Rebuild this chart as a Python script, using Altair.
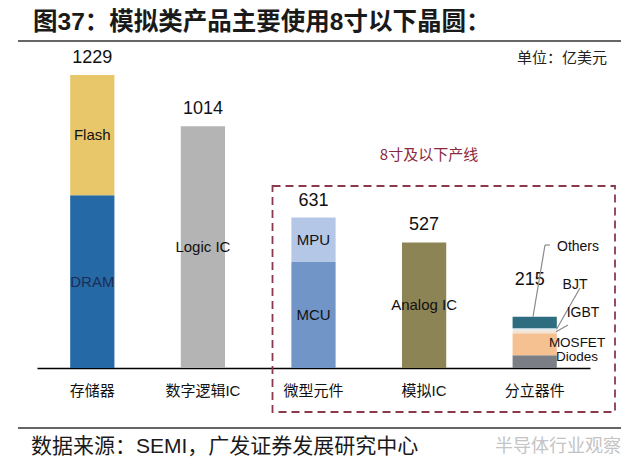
import altair as alt
import pandas as pd

# ---------------- data ----------------
categories = ["存储器", "数字逻辑IC", "微型元件", "模拟IC", "分立器件"]
seg_category = ["存储器", "存储器", "数字逻辑IC", "微型元件", "微型元件", "模拟IC",
                "分立器件", "分立器件", "分立器件", "分立器件", "分立器件"]
seg_name = ["DRAM", "Flash", "Logic IC", "MCU", "MPU", "Analog IC",
            "Diodes", "MOSFET", "IGBT", "BJT", "Others"]
seg_value = [725, 504, 1014, 445, 186, 527, 54, 92, 12, 9, 48]
inside_labels = ["DRAM", "Flash", "Logic IC", "MCU", "MPU", "Analog IC"]
totals = [1229, 1014, 631, 527, 215]

# ---------------- styles ----------------
seg_colors = ["#2569a6", "#e8c76b", "#b4b4b4", "#7295c8", "#b4c7e7", "#8d8455",
              "#7b7f85", "#f6c191", "#f5e4d4", "#dde9ee", "#2d6d7f"]
LAT = "Liberation Sans, Noto Sans CJK SC"
CJK = "Noto Sans CJK SC"
TOP = 12  # top padding of the plot area

df = pd.DataFrame({"category": seg_category, "segment": seg_name, "value": seg_value})
df["end"] = df.groupby("category")["value"].cumsum()
df["start"] = df["end"] - df["value"]
df["mid"] = (df["start"] + df["end"]) / 2
lab_df = df[df["segment"].isin(inside_labels)]
tot_df = pd.DataFrame({"category": categories, "total": totals})

yscale = alt.Scale(domain=[0, 1460], nice=False, zero=True)
xenc = alt.X("category:N", sort=categories,
             scale=alt.Scale(domain=categories, paddingInner=0.6, paddingOuter=0.3),
             axis=alt.Axis(title=None, domainColor="#000", domainWidth=1.5, ticks=False,
                           labelFontSize=15, labelFont=LAT, labelColor="#111",
                           labelPadding=22, labelBaseline="middle", labelAngle=0))

bars = alt.Chart(df).mark_bar().encode(
    x=xenc,
    y=alt.Y("start:Q", scale=yscale, axis=None),
    y2="end:Q",
    color=alt.Color("segment:N", scale=alt.Scale(domain=seg_name, range=seg_colors), legend=None),
)

inside = alt.Chart(lab_df).mark_text(font=LAT, fontSize=15).encode(
    x=xenc,
    y=alt.Y("mid:Q", scale=yscale, axis=None),
    text="segment:N",
    color=alt.condition(alt.datum.segment == "DRAM", alt.value("#1c2e55"), alt.value("#111111")),
)

tot_main = alt.Chart(tot_df).transform_filter(alt.datum.category != "分立器件").mark_text(
    font=LAT, fontSize=18, dy=-17, color="#111").encode(
    x=xenc, y=alt.Y("total:Q", scale=yscale, axis=None), text="total:Q")
tot_disc = alt.Chart(tot_df).transform_filter(alt.datum.category == "分立器件").mark_text(
    font=LAT, fontSize=18, dy=-37, dx=-5, color="#111").encode(
    x=xenc, y=alt.Y("total:Q", scale=yscale, axis=None), text="total:Q")

one = alt.Data(values=[{}])


def label(txt, x, y, size=14, font=LAT, color="#111", align="center", weight="normal"):
    return alt.Chart(one).mark_text(font=font, fontSize=size, color=color, align=align,
                                     baseline="middle", fontWeight=weight).encode(
        x=alt.value(x), y=alt.value(y - TOP), text=alt.value(txt))


def rule(x, x2, y, y2, color="#8a8a8a", w=1.2):
    return alt.Chart(one).mark_rule(color=color, strokeWidth=w).encode(
        x=alt.value(x), x2=alt.value(x2), y=alt.value(y - TOP), y2=alt.value(y2 - TOP))


def lead(x, x2, yval, y2, color="#8a8a8a", w=1.2):
    return alt.Chart(one).mark_rule(color=color, strokeWidth=w).encode(
        x=alt.value(x), x2=alt.value(x2),
        y=alt.Y(datum=yval, scale=yscale, axis=None), y2=alt.value(y2 - TOP))


box = alt.Chart(one).mark_rect(fillOpacity=0, stroke="#8b3a4e", strokeDash=[8, 5],
                               strokeWidth=1.8).encode(
    x=alt.value(235.5), x2=alt.value(578), y=alt.value(178 - TOP), y2=alt.value(404 - TOP))

layers = [
    bars, inside, tot_main, tot_disc,
    # callouts for discrete devices
    rule(508, 513, 237, 237),
    lead(496, 508, 215, 237),
    lead(519.5, 543, 162.5, 280),
    lead(519, 531, 152, 317),
    label("Others", 541, 239),
    label("BJT", 538, 277),
    label("IGBT", 546, 305),
    label("MOSFET", 540, 334.5, size=13.5),
    label("Diodes", 540, 349, size=13.5),
    box,
    label("8寸及以下产线", 392, 147, size=15, font=CJK, color="#8b2840"),
    label("单位：亿美元", 570, 50, size=15, font=CJK, color="#222", align="right"),
    # title and footer
    label("图37：模拟类产品主要使用8寸以下晶圆：", -4, 14.5, size=24.5, color="#1a1a1a",
          align="left", weight="bold"),
    rule(-19, 584, 33, 33, color="#333", w=1.5),
    rule(-19, 584, 420, 420, color="#333", w=1.5),
    label("数据来源：SEMI，广发证券发展研究中心", -6, 439, size=21, color="#1a1a1a", align="left"),
    label("半导体行业观察", 584, 439, size=18, font=CJK, color="#c4c4c4", align="right"),
]

chart = alt.layer(*layers).properties(
    width=553, height=360 - TOP,
    autosize=alt.AutoSizeParams(type="none"),
    padding={"left": 29, "top": TOP, "right": 35, "bottom": 95},
    background="white",
).configure_view(stroke=None)

chart.save("out.html", embed_options={"renderer": "svg", "actions": False})
